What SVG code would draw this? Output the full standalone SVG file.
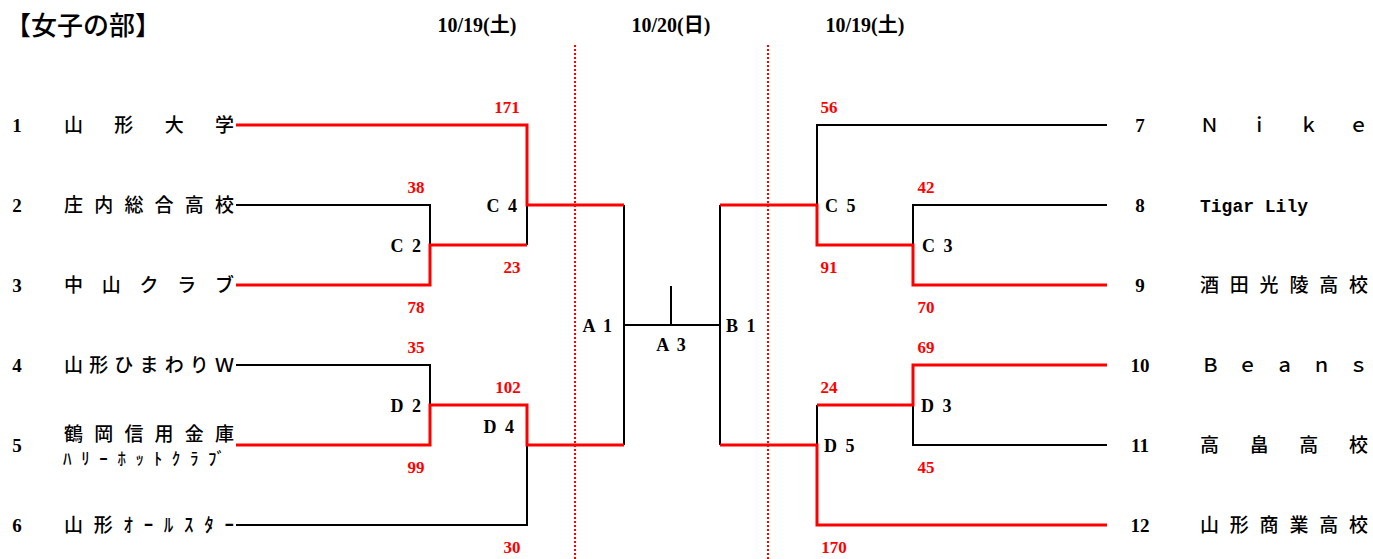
<svg xmlns="http://www.w3.org/2000/svg" width="1373" height="559" viewBox="0 0 1373 559">
<style>
.bg{fill:#fff}
.r{fill:none;stroke:#ff0000;stroke-width:3}
.k{fill:none;stroke:#000;stroke-width:2}
.dot{fill:none;stroke:#ff0000;stroke-width:2;stroke-dasharray:2 2}
.jp{font-family:"Noto Sans CJK JP","Noto Sans CJK SC",sans-serif;font-size:19px;font-weight:500;fill:#000}
.num{font-family:"Liberation Serif","Noto Sans CJK JP",serif;font-size:19px;font-weight:bold;fill:#000;text-anchor:middle}
.lat{font-family:"Liberation Mono",monospace;font-size:18px;font-weight:bold;fill:#000}
.sc{font-family:"Liberation Serif",serif;font-size:17px;font-weight:bold;fill:#ff0000;text-anchor:middle}
.lb{font-family:"Liberation Serif",serif;font-size:18px;font-weight:bold;fill:#000;letter-spacing:2px}
.dt{font-family:"Liberation Serif","Noto Sans CJK JP",serif;font-size:20px;font-weight:bold;fill:#000;text-anchor:middle}
.ttl{font-family:"Noto Sans CJK JP","Noto Sans CJK SC",sans-serif;font-size:26px;font-weight:500;fill:#000}
</style>
<rect class="bg" x="0" y="0" width="1373" height="559"/>
<g id="header">
<text class="ttl" x="5" y="35">【女子の部】</text>
<text class="dt" x="477" y="32">10/19(土)</text>
<text class="dt" x="671" y="32">10/20(日)</text>
<text class="dt" x="865" y="32">10/19(土)</text>
</g>
<g id="dividers">
<line class="dot" x1="575" y1="45" x2="575" y2="559"/>
<line class="dot" x1="768" y1="45" x2="768" y2="559"/>
</g>
<g id="connectors">
<path class="k" d="M527,205 V245"/>
<path class="k" d="M236,205 H430 V245"/>
<path class="k" d="M236,365 H430 V405"/>
<path class="k" d="M527,445 V525 H236"/>
<path class="k" d="M624,205 V445"/>
<path class="k" d="M624,325 H720 M671,286 V325"/>
<path class="k" d="M720,205 V445"/>
<path class="k" d="M817,205 V125 H1107"/>
<path class="k" d="M913,245 V205 H1107"/>
<path class="k" d="M817,445 V405"/>
<path class="k" d="M913,405 V445 H1107"/>
<path class="r" d="M236,125 H527 V205 H624"/>
<path class="r" d="M236,285 H430 V245 H527"/>
<path class="r" d="M236,445 H430 V405 H527 V445 H624"/>
<path class="r" d="M720,205 H817 V245 H913 V285 H1107"/>
<path class="r" d="M720,445 H817 V525 H1107"/>
<path class="r" d="M817,405 H913 V365 H1107"/>
</g>
<g id="team1"><text class="num" x="17" y="132">1</text><text class="jp" x="64" y="132" textLength="170" lengthAdjust="spacing">山形大学</text></g>
<g id="team2"><text class="num" x="17" y="212">2</text><text class="jp" x="64" y="212" textLength="170" lengthAdjust="spacing">庄内総合高校</text></g>
<g id="team3"><text class="num" x="17" y="292">3</text><text class="jp" x="64" y="292" textLength="170" lengthAdjust="spacing">中山クラブ</text></g>
<g id="team4"><text class="num" x="17" y="372">4</text><text class="jp" x="64" y="372" textLength="170" lengthAdjust="spacing">山形ひまわりＷ</text></g>
<g id="team5"><text class="num" x="17" y="452">5</text><text class="jp" x="64" y="441" textLength="170" lengthAdjust="spacing">鶴岡信用金庫</text><text class="jp" x="63" y="465" style="font-size:17px" textLength="162" lengthAdjust="spacing">ﾊﾘｰﾎｯﾄｸﾗﾌﾞ</text></g>
<g id="team6"><text class="num" x="17" y="532">6</text><text class="jp" x="64" y="532" textLength="170" lengthAdjust="spacing">山形ｵｰﾙｽﾀｰ</text></g>
<g id="team7"><text class="num" x="1140" y="132">7</text><text class="jp" x="1200" y="132" textLength="168" lengthAdjust="spacing">Ｎｉｋｅ</text></g>
<g id="team8"><text class="num" x="1140" y="212">8</text><text class="lat" x="1200" y="212">Tigar Lily</text></g>
<g id="team9"><text class="num" x="1140" y="292">9</text><text class="jp" x="1200" y="292" textLength="168" lengthAdjust="spacing">酒田光陵高校</text></g>
<g id="team10"><text class="num" x="1140" y="372">10</text><text class="jp" x="1201" y="372" textLength="167" lengthAdjust="spacing">Ｂｅａｎｓ</text></g>
<g id="team11"><text class="num" x="1140" y="452">11</text><text class="jp" x="1200" y="452" textLength="168" lengthAdjust="spacing">高畠高校</text></g>
<g id="team12"><text class="num" x="1140" y="532">12</text><text class="jp" x="1200" y="532" textLength="168" lengthAdjust="spacing">山形商業高校</text></g>
<g id="C4"><text class="lb" x="519" y="212" text-anchor="end">C 4</text><text class="sc" x="507" y="113">171</text><text class="sc" x="512" y="273">23</text></g>
<g id="C2"><text class="lb" x="423" y="252" text-anchor="end">C 2</text><text class="sc" x="416" y="193">38</text><text class="sc" x="416" y="313">78</text></g>
<g id="D2"><text class="lb" x="423" y="412" text-anchor="end">D 2</text><text class="sc" x="416" y="353">35</text><text class="sc" x="416" y="473">99</text></g>
<g id="D4"><text class="lb" x="516" y="433" text-anchor="end">D 4</text><text class="sc" x="508" y="393">102</text><text class="sc" x="512" y="553">30</text></g>
<g id="A1"><text class="lb" x="614" y="332" text-anchor="end">A 1</text></g>
<g id="A3"><text class="lb" x="672" y="351" text-anchor="middle">A 3</text></g>
<g id="B1"><text class="lb" x="726" y="332">B 1</text></g>
<g id="C5"><text class="lb" x="825" y="212">C 5</text><text class="sc" x="829" y="113">56</text><text class="sc" x="829" y="273">91</text></g>
<g id="C3"><text class="lb" x="922" y="252">C 3</text><text class="sc" x="926" y="193">42</text><text class="sc" x="926" y="313">70</text></g>
<g id="D3"><text class="lb" x="921" y="412">D 3</text><text class="sc" x="926" y="353">69</text><text class="sc" x="926" y="473">45</text></g>
<g id="D5"><text class="lb" x="824" y="452">D 5</text><text class="sc" x="829" y="393">24</text><text class="sc" x="834" y="553">170</text></g>
</svg>
